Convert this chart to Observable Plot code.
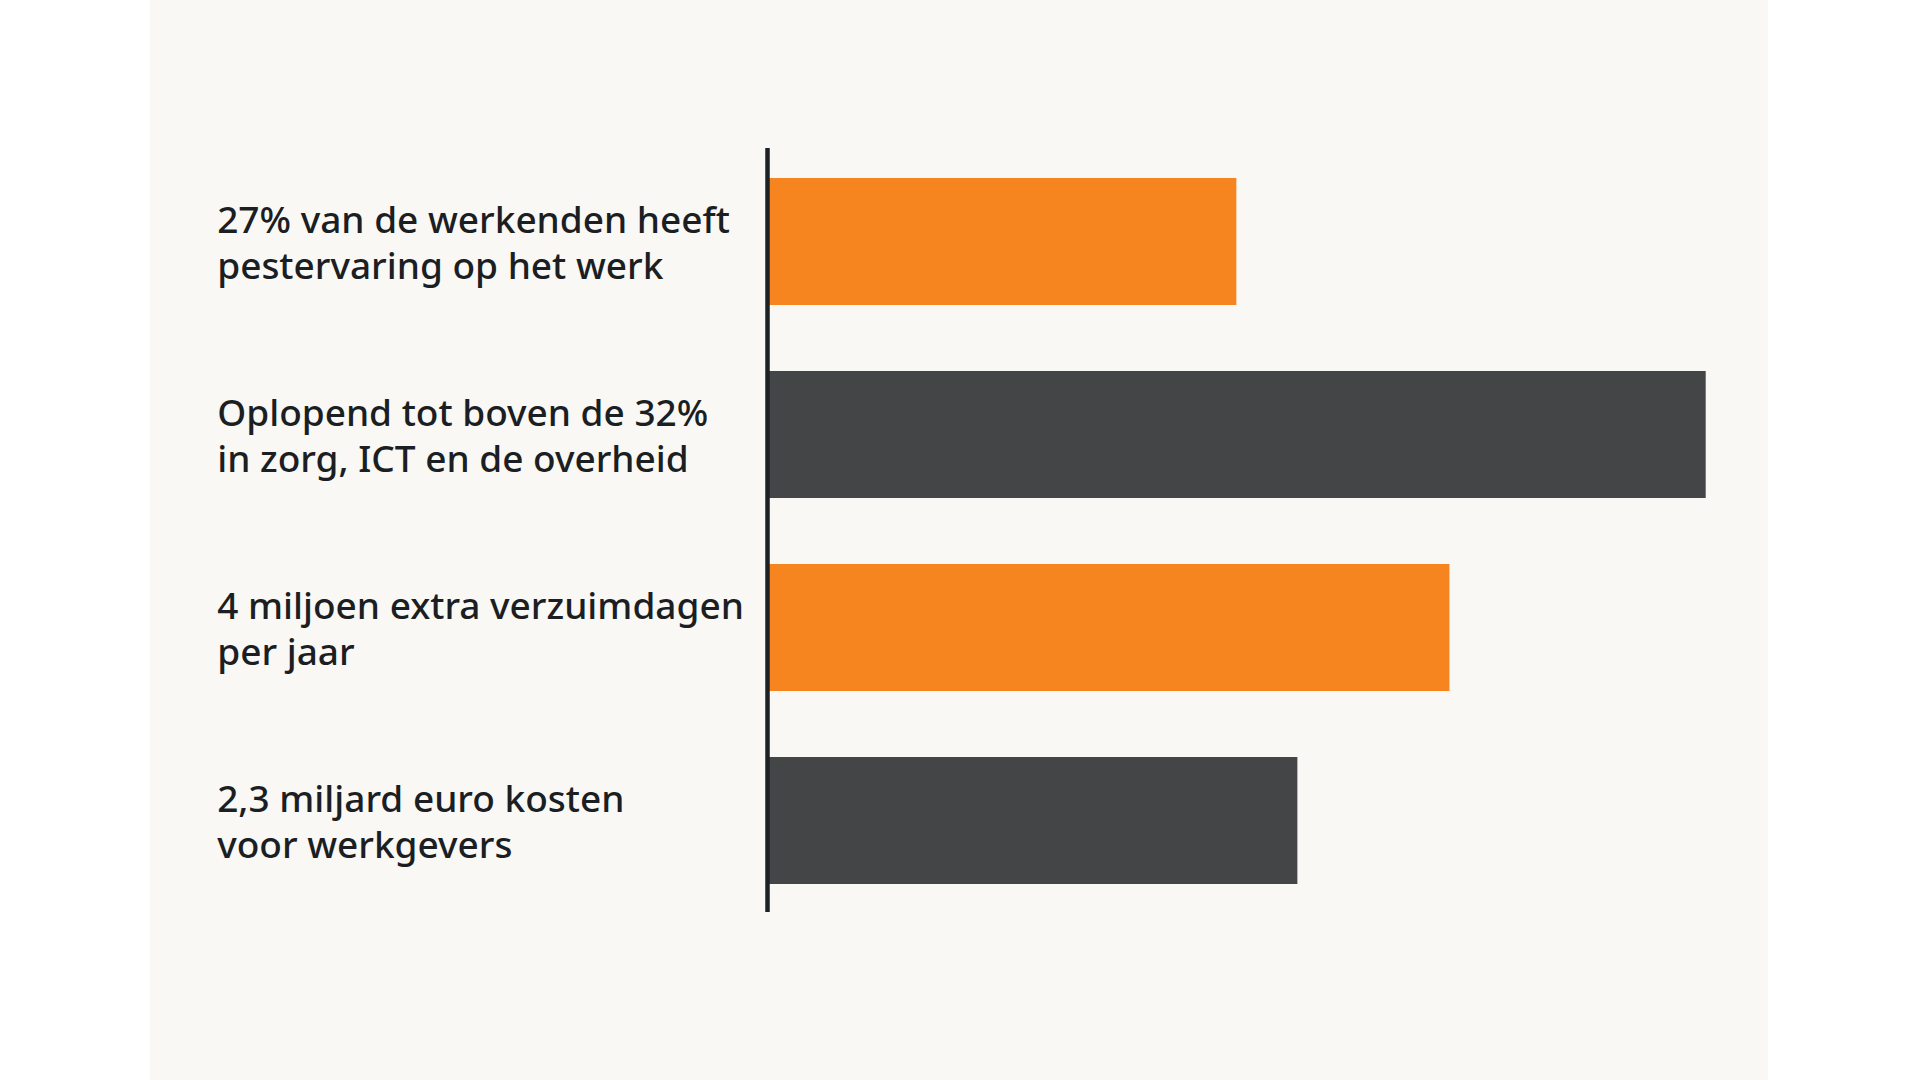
<!DOCTYPE html>
<html>
<head>
<meta charset="utf-8">
<script src="https://cdn.jsdelivr.net/npm/d3@7"></script>
<script src="https://cdn.jsdelivr.net/npm/@observablehq/plot@0.6"></script>
<style>
  html, body { margin: 0; padding: 0; background: #ffffff; }
  body { width: 1920px; height: 1080px; overflow: hidden; position: relative; }
  #panel { position: absolute; left: 150px; top: 0; width: 1618px; height: 1080px; background: #f9f8f5; }
  #panel svg { display: block; }
</style>
</head>
<body>
<div id="panel"></div>
<script>
const labels = [
  "27% van de werkenden heeft\npestervaring op het werk",
  "Oplopend tot boven de 32%\nin zorg, ICT en de overheid",
  "4 miljoen extra verzuimdagen\nper jaar",
  "2,3 miljard euro kosten\nvoor werkgevers"
];
const values = [50, 100, 72.7, 56.5];
const palette = ["#f68520", "#434547", "#f68520", "#434547"];

const data = labels.map((label, i) => ({label, value: values[i]}));

const chart = Plot.plot({
  width: 1618,
  height: 1080,
  marginTop: 145,
  marginBottom: 162.5,
  marginLeft: 617,
  marginRight: 62.3,
  style: {background: "transparent", fontFamily: "'Noto Sans', sans-serif"},
  x: {domain: [0, 100], axis: null},
  y: {domain: labels, axis: null, paddingInner: 0.34, paddingOuter: 0.17},
  color: {domain: labels, range: palette},
  marks: [
    Plot.barX(data, {x: "value", y: "label", fill: "label"}),
    Plot.ruleX([0], {stroke: "#1e2124", strokeWidth: 4.5, insetTop: 3, insetBottom: 5.5}),
    Plot.text(data, {
      y: "label",
      text: "label",
      frameAnchor: "left",
      textAnchor: "start",
      lineAnchor: "middle",
      dx: -550.3,
      dy: -1,
      fontSize: 37,
      fontWeight: 550,
      lineHeight: 1.26,
      fill: "#1b1e22"
    })
  ]
});
document.getElementById("panel").appendChild(chart);
</script>
</body>
</html>
